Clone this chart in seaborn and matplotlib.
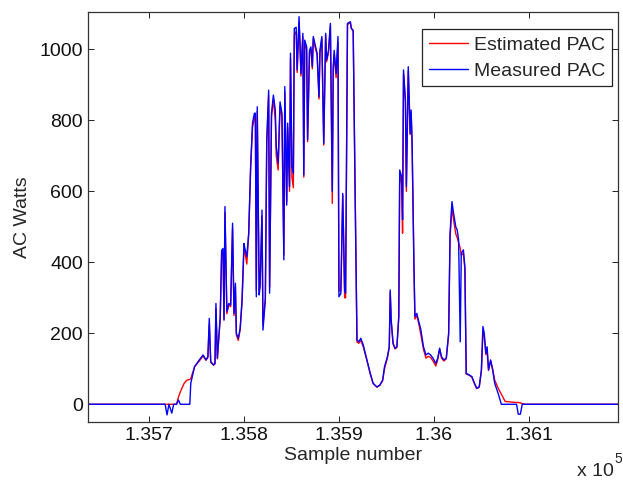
import numpy as np
import pandas as pd
import matplotlib
matplotlib.use("Agg")
import matplotlib.pyplot as plt
import seaborn as sns

# sample numbers (shared by both series)
samples = [
    135636, 135717, 135719, 135721, 135724, 135726, 135729, 135731, 135733, 135737,
    135740, 135743, 135744, 135748, 135753, 135757, 135760, 135762, 135763.5, 135765,
    135768, 135769.5, 135770.5, 135772, 135775, 135776.5, 135778, 135779, 135780, 135782,
    135784, 135786, 135788, 135789.5, 135791, 135792, 135794, 135796, 135798, 135800,
    135801, 135803, 135805, 135807, 135809, 135811, 135812, 135813, 135814, 135816,
    135817, 135819, 135820, 135822.5, 135824, 135826, 135827, 135829, 135831, 135833,
    135834, 135836, 135838, 135840, 135842, 135843, 135845, 135846, 135848, 135849,
    135850.5, 135852, 135853, 135855, 135856, 135858, 135859, 135860, 135862, 135863,
    135864, 135866, 135867, 135869, 135870.5, 135872, 135873, 135875, 135877, 135879,
    135880, 135882, 135884, 135886, 135887, 135889, 135891, 135893, 135894, 135895,
    135897, 135899, 135900, 135902, 135904, 135906, 135907, 135909, 135912, 135913,
    135915, 135917, 135919, 135921, 135923, 135925.6, 135929, 135933, 135936, 135940,
    135943, 135946, 135948, 135951, 135953, 135954, 135955, 135957, 135959, 135961,
    135963, 135964, 135966, 135967, 135968, 135970, 135971, 135973, 135975, 135976,
    135977, 135979, 135980, 135982, 135984, 135986, 135989, 135991.6, 135994, 135996.5,
    135999, 136002, 136004, 136006, 136008, 136010.5, 136013, 136015.5, 136017, 136019,
    136020.7, 136023, 136024.5, 136026, 136027.7, 136028.8, 136031, 136032.6, 136034, 136037,
    136040, 136042, 136045, 136047.7, 136050, 136051.6, 136053, 136054.7, 136056, 136057.5,
    136059.7, 136061.8, 136064, 136067.7, 136071, 136075, 136087, 136088.8, 136091, 136093,
    136096, 136194,
]

measured_pac = [
    0, 0, -30, 0, -25, 0, 0, 12, 0, 0,
    0, 0, 59, 106, 125, 139, 125, 134, 242, 120,
    111, 115, 284, 130, 247, 434, 439, 237, 557, 261,
    284, 280, 510, 256, 341, 200, 186, 214, 294, 453,
    439, 416, 482, 669, 792, 820, 820, 303, 838, 308,
    331, 547, 209, 294, 745, 885, 313, 820, 871, 829,
    726, 679, 852, 820, 407, 895, 561, 792, 613, 989,
    669, 651, 1059, 1062, 942, 1092, 1017, 932, 1045, 646,
    1026, 1007, 745, 997, 1007, 951, 1036, 1012, 989, 866,
    997, 1036, 735, 1045, 970, 997, 1073, 600, 951, 997,
    932, 1036, 303, 312, 594, 322, 313, 1073, 1078, 1059,
    1054, 600, 181, 176, 186, 167, 130, 87, 59, 49,
    54, 68, 106, 134, 162, 322, 237, 172, 158, 162,
    247, 660, 641, 520, 942, 857, 613, 951, 763, 829,
    745, 388, 247, 256, 233, 214, 162, 139, 144, 139,
    130, 115, 130, 158, 134, 125, 130, 200, 482, 571,
    538, 500, 491, 463, 176, 425, 435, 388, 87, 83,
    78, 64, 45, 49, 97, 219, 200, 144, 162, 97,
    125, 97, 59, 30, 0, 0, 0, -28, -28, 0,
    0, 0,
]

estimated_pac = [
    0, 0, 0, 0, 0, 0, 0, 20, 35, 59,
    68, 70, 72, 106, 122, 136, 124, 132, 225, 118,
    110, 114, 270, 128, 240, 420, 430, 240, 540, 255,
    280, 275, 495, 250, 330, 195, 180, 210, 290, 440,
    430, 395, 480, 660, 780, 805, 810, 320, 825, 320,
    340, 530, 225, 300, 735, 870, 330, 810, 860, 800,
    700, 660, 840, 810, 420, 880, 570, 780, 600, 975,
    640, 610, 1040, 1050, 935, 1075, 1010, 925, 1035, 640,
    1015, 1000, 740, 990, 1000, 945, 1030, 1005, 985, 860,
    990, 1030, 730, 1040, 965, 990, 1065, 566, 945, 985,
    920, 1020, 320, 320, 590, 300, 300, 1070, 1075, 1060,
    1050, 600, 175, 172, 180, 162, 128, 85, 58, 48,
    53, 66, 100, 130, 160, 315, 235, 170, 156, 160,
    245, 650, 620, 482, 930, 850, 600, 940, 760, 820,
    730, 380, 240, 250, 228, 200, 155, 130, 135, 132,
    122, 108, 125, 155, 130, 122, 128, 195, 470, 555,
    520, 480, 470, 455, 440, 420, 425, 380, 85, 82,
    76, 62, 44, 48, 95, 205, 190, 140, 150, 95,
    122, 100, 68, 45, 28, 8, 5, 5, 4, 2,
    0, 0,
]

df = pd.concat([
    pd.DataFrame({"sample": samples, "watts": estimated_pac, "series": "Estimated PAC"}),
    pd.DataFrame({"sample": samples, "watts": measured_pac, "series": "Measured PAC"}),
])

sns.set_style("white")
plt.rcParams["font.family"] = ["Liberation Sans", "DejaVu Sans"]

fig = plt.figure(figsize=(6.23, 4.80), dpi=100)
ax = fig.add_axes([0.1408, 0.1208, 0.851, 0.8548])

sns.lineplot(
    data=df, x="sample", y="watts", hue="series",
    palette={"Estimated PAC": "#ff0000", "Measured PAC": "#0000ff"},
    estimator=None, sort=False, linewidth=1.0, ax=ax,
)

ax.set_xlim(135635.5, 136193.7)
ax.set_ylim(-50, 1106)

xticks = [135700, 135800, 135900, 136000, 136100]
xlabels = ["1.357", "1.358", "1.359", "1.36", "1.361"]
ax.set_xticks(xticks)
ax.set_xticklabels(xlabels)
ax.set_yticks([0, 200, 400, 600, 800, 1000])

ax.tick_params(direction="in", length=4, width=0.7, labelsize=14, top=True, right=True,
               bottom=True, left=True, colors="#222222", labelcolor="#111111")
for sp in ax.spines.values():
    sp.set_color("#333333")
    sp.set_linewidth(0.9)

ax.set_xlabel("Sample number", fontsize=14, labelpad=2)
ax.set_ylabel("AC Watts", fontsize=14, labelpad=6)

leg = ax.legend(loc="upper right", bbox_to_anchor=(0.9887, 0.957), borderaxespad=0,
                fontsize=14, frameon=True, fancybox=False, framealpha=1,
                handlelength=2, handletextpad=0.3, labelspacing=0.42, borderpad=0.35)
leg.get_frame().set_edgecolor("#222222")
leg.get_frame().set_linewidth(0.9)

fig.text(0.985, 0.008, "x 10", fontsize=14, ha="right", va="baseline")
fig.text(0.987, 0.036, "5", fontsize=10, ha="left", va="baseline")

fig.savefig("out.png", dpi=100)
